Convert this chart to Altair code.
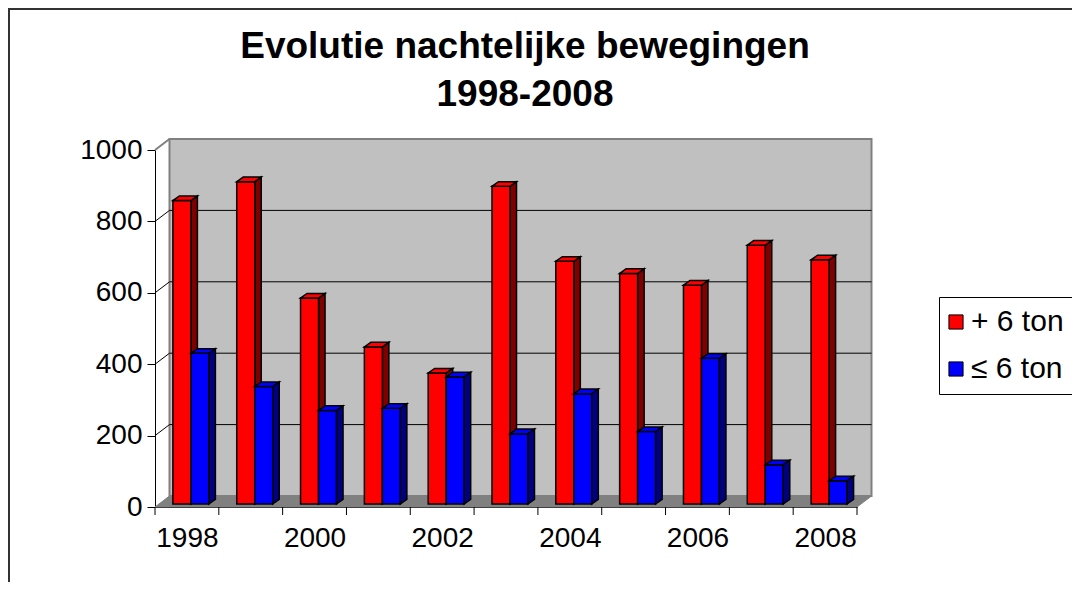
import altair as alt
import pandas as pd

# ---- data ----
years = [1998, 1999, 2000, 2001, 2002, 2003, 2004, 2005, 2006, 2007, 2008]
heavy = [850, 903, 577, 440, 367, 890, 680, 646, 613, 725, 684]   # + 6 ton
light = [422, 329, 262, 268, 356, 197, 309, 203, 408, 110, 65]     # <= 6 ton
series_names = ["+ 6 ton", "≤ 6 ton"]
series_front = ["#FF0000", "#0000FF"]
series_side = ["#800000", "#000080"]
y_ticks = [0, 200, 400, 600, 800, 1000]
grid_vals = [200, 400, 600, 800]
x_labels = [1998, 2000, 2002, 2004, 2006, 2008]
title_lines = ["Evolutie nachtelijke bewegingen", "1998-2008"]

# ---- geometry (pixels -> data units) ----
W, H = 702, 357
X0, X1 = years[0] - 0.5, years[-1] + 0.5
Y0, Y1 = 0, 1000
PXY = W / (X1 - X0)
PXV = H / (Y1 - Y0)


def dx(px):
    return px / PXY


def dv(px):
    return px / PXV


WALL_DX, WALL_DY = dx(14.5), dv(11)
BAR_X, BAR_Y = dx(4), dv(3)
BAR_W = dx(18)
DEP_X, DEP_Y = dx(6.5), dv(4.6)

front_rows, top_rows, side_rows = [], [], []
for si, (name, vals) in enumerate(zip(series_names, [heavy, light])):
    for yr, v in zip(years, vals):
        x1 = yr + BAR_X - BAR_W if si == 0 else yr + BAR_X
        x2 = x1 + BAR_W
        b, t = BAR_Y, BAR_Y + v
        bid = f"{si}-{yr}"
        front_rows.append(dict(series=name, id=bid, x=x1, x2=x2, y=b, y2=t))
        for xx, lo, hi in [(x1, t, t), (x1 + DEP_X, t, t + DEP_Y),
                           (x2, t, t + DEP_Y), (x2 + DEP_X, t + DEP_Y, t + DEP_Y)]:
            top_rows.append(dict(series=name, id=bid, x=xx, y=lo, y2=hi))
        for xx, lo, hi in [(x2, b, t), (x2 + DEP_X, b + DEP_Y, t + DEP_Y)]:
            side_rows.append(dict(series=name, si=si, id=bid, x=xx, y=lo, y2=hi))

front_df = pd.DataFrame(front_rows)
top_df = pd.DataFrame(top_rows)
side_df = pd.DataFrame(side_rows)

wall_df = pd.DataFrame([dict(x=X0 + WALL_DX, x2=X1 + WALL_DX, y=Y0 + WALL_DY, y2=Y1 + WALL_DY)])
floor_df = pd.DataFrame([
    dict(x=X0, y=Y0, y2=Y0),
    dict(x=X0 + WALL_DX, y=Y0, y2=Y0 + WALL_DY),
    dict(x=X1, y=Y0, y2=Y0 + WALL_DY),
    dict(x=X1 + WALL_DX, y=Y0 + WALL_DY, y2=Y0 + WALL_DY),
])
grid_df = pd.DataFrame([dict(x=X0 + WALL_DX, x2=X1 + WALL_DX, y=v + WALL_DY) for v in grid_vals])
diag_df = pd.DataFrame([dict(x=X0, x2=X0 + WALL_DX, y=v, y2=v + WALL_DY) for v in grid_vals])
diag_top_df = pd.DataFrame([dict(x=X0, x2=X0 + WALL_DX, y=Y1, y2=Y1 + WALL_DY)])
tick_df = pd.DataFrame({"x": [y - 0.5 for y in years] + [years[-1] + 0.5]})
one = pd.DataFrame({"a": [0]})

FONT = "Liberation Sans"
xscale = alt.Scale(domain=[X0, X1], nice=False, zero=False)
yscale = alt.Scale(domain=[Y0, Y1], nice=False, zero=False)
xaxis = alt.Axis(values=x_labels, format="d", ticks=False, labelFontSize=28, labelFont=FONT,
                 labelColor="black", labelPadding=17, domainColor="black", domainWidth=1,
                 grid=False, title=None, labelFlush=False)
yaxis = alt.Axis(values=y_ticks, format="d", tickSize=8, tickColor="black", tickWidth=1,
                 labelFontSize=28, labelFont=FONT, labelColor="black", labelPadding=5,
                 domainColor="black", domainWidth=1, grid=False, title=None)
X = lambda f="x": alt.X(f"{f}:Q", scale=xscale, axis=xaxis)
Y = lambda f="y": alt.Y(f"{f}:Q", scale=yscale, axis=yaxis, stack=None)

color_scale = alt.Scale(domain=series_names, range=series_front)
legend = alt.Legend(title=None, orient="none", legendX=784, legendY=147, padding=10,
                    strokeColor="black", fillColor="white", labelFontSize=30, labelFont=FONT,
                    labelColor="black", symbolType="square", symbolSize=200,
                    symbolStrokeColor="black", symbolStrokeWidth=1, rowPadding=17,
                    symbolOffset=-8, labelOffset=0, symbolOpacity=1)
color = alt.Color("series:N", scale=color_scale, legend=legend)

border = alt.Chart(one).mark_rect(filled=False, stroke="#333333", strokeWidth=2).encode(
    x=alt.value(-146), y=alt.value(-141), x2=alt.value(940), y2=alt.value(450))

title1 = alt.Chart(one).mark_text(text=title_lines[0], font=FONT, fontSize=37, fontWeight="bold",
                                  align="center", baseline="alphabetic", color="black").encode(
    x=alt.value(370), y=alt.value(-92))
title2 = alt.Chart(one).mark_text(text=title_lines[1], font=FONT, fontSize=37, fontWeight="bold",
                                  align="center", baseline="alphabetic", color="black").encode(
    x=alt.value(370), y=alt.value(-44))

wall = alt.Chart(wall_df).mark_rect(fill="#C0C0C0", stroke="#808080", strokeWidth=2).encode(
    x=X(), x2="x2:Q", y=Y(), y2="y2:Q")
floor = alt.Chart(floor_df).mark_area(fill="#808080", stroke="#808080", strokeWidth=1, opacity=1).encode(
    x=X(), y=Y(), y2="y2:Q")
grid = alt.Chart(grid_df).mark_rule(color="black", strokeWidth=1).encode(
    x=X(), x2="x2:Q", y=Y())
diag = alt.Chart(diag_df).mark_rule(color="black", strokeWidth=1).encode(
    x=X(), x2="x2:Q", y=Y(), y2="y2:Q")
diag_top = alt.Chart(diag_top_df).mark_rule(color="#808080", strokeWidth=2).encode(
    x=X(), x2="x2:Q", y=Y(), y2="y2:Q")
ticks = alt.Chart(tick_df).mark_rule(color="black", strokeWidth=1).encode(
    x=X(), y=alt.value(H), y2=alt.value(H + 8))

side_red = alt.Chart(side_df[side_df.si == 0]).mark_area(
    fill=series_side[0], stroke="black", strokeWidth=1.5, opacity=1).encode(
    x=X(), y=Y(), y2="y2:Q", detail="id:N")
side_blue = alt.Chart(side_df[side_df.si == 1]).mark_area(
    fill=series_side[1], stroke="black", strokeWidth=1.5, opacity=1).encode(
    x=X(), y=Y(), y2="y2:Q", detail="id:N")
fronts = alt.Chart(front_df).mark_rect(stroke="black", strokeWidth=1.5, opacity=1).encode(
    x=X(), x2="x2:Q", y=Y(), y2="y2:Q", color=color)
tops = alt.Chart(top_df).mark_area(stroke="black", strokeWidth=1.5, opacity=1).encode(
    x=X(), y=Y(), y2="y2:Q", color=color, detail="id:N")

chart = alt.layer(
    border, title1, title2, wall, floor, grid, diag, diag_top, ticks,
    side_red, fronts, tops, side_blue
).properties(
    width=W, height=H,
    autosize=alt.AutoSizeParams(type="none"),
    padding={"left": 147, "top": 142, "right": 215, "bottom": 75},
).configure_view(stroke=None)

chart.save("out.html", embed_options={"renderer": "svg", "actions": False})
